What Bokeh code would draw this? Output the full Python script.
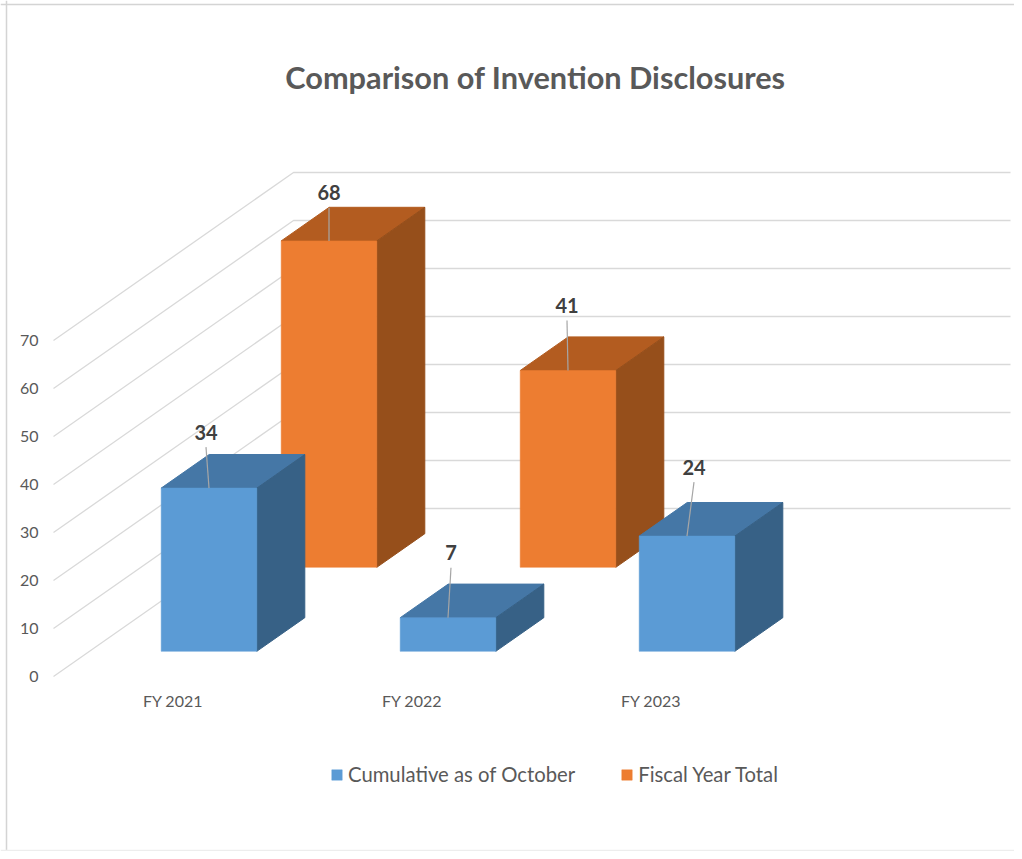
from bokeh.plotting import figure
from bokeh.models import (FixedTicker, Label, Legend, LegendItem,
                          LinearAxis, Range1d, Span)
from bokeh.core.properties import value
from bokeh.embed import file_html
from bokeh.resources import INLINE

# ---- data ----
categories = ["FY 2021", "FY 2022", "FY 2023"]
cumulative = [34, 7, 24]
fiscal_total = [68, 41, None]
y_ticks = [0, 10, 20, 30, 40, 50, 60, 70]
series_names = ["Cumulative as of October", "Fiscal Year Total"]
title_text = "Comparison of Invention Disclosures"

# ---- layout of the pseudo-3D scene (category units / value units) ----
PX_X = 239.0          # pixels per category
PX_Y = 4.8            # pixels per value unit
DEPTH_X = 240 / PX_X  # full floor depth, projected
DEPTH_Y = 168 / PX_Y
BAR_W = 0.4
BAR_D = 0.2
D_BLUE, D_ORANGE = 0.15, 0.65
FONT = "Lato"

W, H = 1014, 851
x0, y0 = 172.5, 676   # pixel position of (category 0, value 0) in canvas
xr = Range1d(-x0 / PX_X, (W - x0) / PX_X)
yr = Range1d((y0 - H) / PX_Y, y0 / PX_Y)

p = figure(width=W, height=H, x_range=xr, y_range=yr, output_backend="svg",
           toolbar_location=None, x_axis_location=None, y_axis_location=None,
           min_border=0, margin=(0, 0, -8, 0))
p.grid.visible = False
p.outline_line_color = None
p.background_fill_color = "white"
p.border_fill_color = "white"


def proj(x, v, d):
    return x + d * DEPTH_X, v + d * DEPTH_Y


# chart border
for dim, loc, col in [("height", xr.start + 6 / PX_X, "#D4D4D4"),
                      ("width", yr.end - 4 / PX_Y, "#D4D4D4"),
                      ("width", yr.start + 1 / PX_Y, "#EDEDED")]:
    p.add_layout(Span(location=loc, dimension=dim, line_color=col, line_width=1.5))

# gridlines: floor-to-back diagonals and back wall
GRID = "#D9D9D9"
left = -0.5
p.multi_line(xs=[[left, proj(left, 0, 1)[0], proj(left + 3, 0, 1)[0]] for _ in y_ticks],
             ys=[[t, proj(left, t, 1)[1], proj(left, t, 1)[1]] for t in y_ticks],
             line_color=GRID, line_width=1.3)


def bars(values, depth, front, top, side):
    cats = [i for i, v in enumerate(values) if v is not None]
    vals = [values[i] for i in cats]
    base = [proj(i - BAR_W / 2, 0, depth) for i in cats]
    l = [b[0] for b in base]
    r = [b[0] + BAR_W for b in base]
    b_y = [b[1] for b in base]
    t_y = [b + v for b, v in zip(b_y, vals)]
    ddx, ddy = BAR_D * DEPTH_X, BAR_D * DEPTH_Y
    p.patches(xs=[[a, c, c + ddx, a + ddx] for a, c in zip(l, r)],
              ys=[[t, t, t + ddy, t + ddy] for t in t_y],
              fill_color=top, line_color=top)
    p.patches(xs=[[c, c + ddx, c + ddx, c] for c in r],
              ys=[[b, b + ddy, t + ddy, t] for b, t in zip(b_y, t_y)],
              fill_color=side, line_color=side)
    return p.quad(left=l, right=r, bottom=b_y, top=t_y, fill_color=front, line_color=front,
                  line_width=0.5)


orange = bars(fiscal_total, D_ORANGE, "#ED7D31", "#B35C20", "#964F1B")
blue = bars(cumulative, D_BLUE, "#5B9BD5", "#4577A6", "#376186")

# data labels with leader lines (offsets of the label from the bar's top-front centre, px)
lab_x, lab_y, lab_t, lead_x0, lead_y0, lead_x1, lead_y1 = [], [], [], [], [], [], []
series = [(fiscal_total, D_ORANGE, [0, -1, 0], [48, 65, 0]),
          (cumulative, D_BLUE, [-3, 3, 7], [56, 65, 69])]
for values, depth, offs_x, offs_y in series:
    for i, v in enumerate(values):
        if v is None:
            continue
        cx, cy = proj(i, v, depth)
        lx = cx + offs_x[i] / PX_X
        ly = cy + offs_y[i] / PX_Y
        lab_x.append(lx); lab_y.append(ly); lab_t.append(str(v))
        lead_x0.append(cx); lead_y0.append(cy)
        lead_x1.append(lx); lead_y1.append(ly - 15 / PX_Y)
p.segment(lead_x0, lead_y0, lead_x1, lead_y1, line_color="#A6A6A6", line_width=1.2)
p.text(x=lab_x, y=lab_y, text=lab_t, text_font=value(FONT), text_font_size="20px",
       text_font_style="bold", text_color="#404040", text_align="center",
       text_baseline="middle")

# axes
yaxis = LinearAxis(fixed_location=(51 - x0) / PX_X, ticker=FixedTicker(ticks=y_ticks))
yaxis.axis_line_color = None
yaxis.major_tick_line_color = None
yaxis.minor_tick_line_color = None
yaxis.major_label_standoff = 7
yaxis.major_label_text_font = FONT
yaxis.major_label_text_font_size = "16px"
yaxis.major_label_text_color = "#595959"
p.add_layout(yaxis, "left")

xaxis = LinearAxis(fixed_location=(y0 - 674) / PX_Y, ticker=FixedTicker(ticks=[0, 1, 2]),
                   major_label_overrides={i: c for i, c in enumerate(categories)})
xaxis.axis_line_color = None
xaxis.major_tick_line_color = None
xaxis.minor_tick_line_color = None
xaxis.major_label_standoff = 10
xaxis.major_label_text_font = FONT
xaxis.major_label_text_font_size = "16px"
xaxis.major_label_text_color = "#595959"
p.add_layout(xaxis, "below")

# title
p.add_layout(Label(x=535, y=H - 77, x_units="screen", y_units="screen", text=title_text,
                   text_font=FONT, text_font_style="bold", text_font_size="30.7px",
                   text_color="#595959", text_align="center", text_baseline="middle"))

# legend
legend = Legend(items=[LegendItem(label=series_names[0], renderers=[blue]),
                       LegendItem(label=series_names[1], renderers=[orange])],
                orientation="horizontal", location=(330, 65), padding=0, margin=0,
                spacing=45, label_standoff=5, glyph_width=13, glyph_height=13,
                label_text_font=FONT, label_text_font_size="20.3px",
                label_text_color="#595959", border_line_color=None,
                background_fill_alpha=0)
p.add_layout(legend, "center")

open("out.html", "w").write(file_html(p, INLINE))
